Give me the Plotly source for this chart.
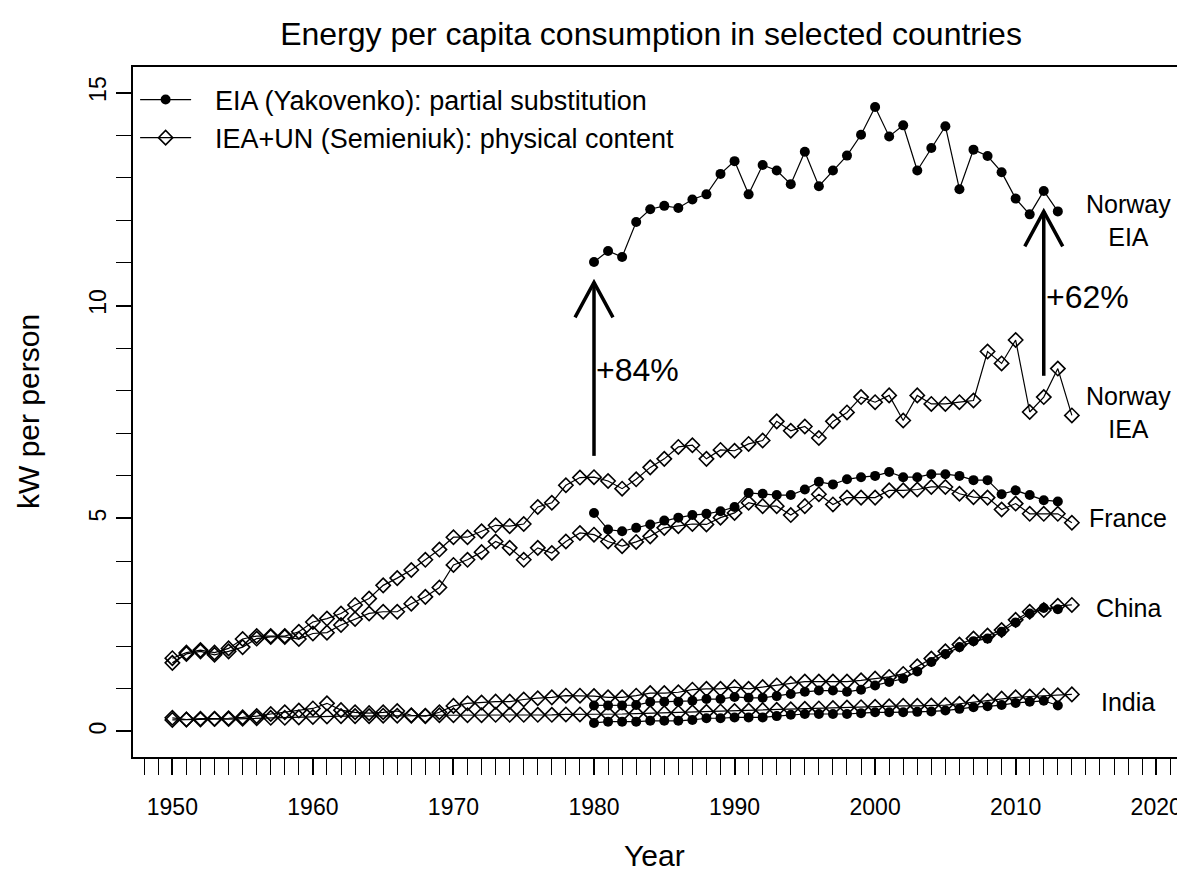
import plotly.graph_objects as go

# ---------------- data ----------------
years_iea = list(range(1950, 2015))
years_eia = list(range(1980, 2014))

norway_iea = [1.72, 1.85, 1.91, 1.85, 1.95, 2.17, 2.24, 2.24, 2.24, 2.34,
              2.57, 2.65, 2.77, 2.97, 3.12, 3.43, 3.60, 3.79, 4.03, 4.27,
              4.56, 4.56, 4.70, 4.84, 4.82, 4.87, 5.27, 5.37, 5.78, 5.96,
              5.97, 5.88, 5.70, 5.92, 6.20, 6.40, 6.68, 6.72, 6.40, 6.61,
              6.59, 6.75, 6.83, 7.28, 7.06, 7.16, 6.89, 7.28, 7.49, 7.85,
              7.73, 7.89, 7.30, 7.89, 7.69, 7.69, 7.73, 7.77, 8.92, 8.64,
              9.19, 7.50, 7.85, 8.52, 7.42]
france_iea = [1.61, 1.82, 1.88, 1.80, 1.88, 1.98, 2.18, 2.22, 2.22, 2.17,
              2.30, 2.32, 2.50, 2.64, 2.77, 2.81, 2.81, 3.00, 3.16, 3.38,
              3.91, 4.03, 4.21, 4.46, 4.31, 4.03, 4.31, 4.19, 4.46, 4.66,
              4.62, 4.46, 4.35, 4.45, 4.58, 4.78, 4.82, 4.87, 4.86, 5.02,
              5.13, 5.37, 5.29, 5.29, 5.08, 5.29, 5.57, 5.33, 5.49, 5.49,
              5.49, 5.66, 5.66, 5.68, 5.74, 5.74, 5.58, 5.50, 5.49, 5.21,
              5.35, 5.11, 5.11, 5.11, 4.90]
china_iea = [0.32, 0.28, 0.30, 0.30, 0.31, 0.33, 0.36, 0.41, 0.45, 0.49,
             0.54, 0.66, 0.50, 0.45, 0.43, 0.45, 0.48, 0.38, 0.36, 0.45,
             0.60, 0.66, 0.68, 0.70, 0.70, 0.75, 0.78, 0.80, 0.84, 0.84,
             0.83, 0.80, 0.80, 0.84, 0.90, 0.90, 0.92, 0.98, 1.00, 1.00,
             1.04, 1.00, 1.04, 1.08, 1.12, 1.17, 1.17, 1.17, 1.17, 1.20,
             1.24, 1.28, 1.35, 1.53, 1.71, 1.88, 2.04, 2.18, 2.25, 2.38,
             2.62, 2.81, 2.85, 2.95, 2.97]
india_iea = [0.27, 0.28, 0.28, 0.29, 0.29, 0.30, 0.31, 0.32, 0.32, 0.33,
             0.34, 0.35, 0.36, 0.36, 0.36, 0.37, 0.37, 0.37, 0.37, 0.38,
             0.38, 0.38, 0.38, 0.39, 0.39, 0.39, 0.39, 0.39, 0.40, 0.40,
             0.40, 0.41, 0.41, 0.42, 0.43, 0.43, 0.44, 0.45, 0.46, 0.47,
             0.48, 0.49, 0.50, 0.51, 0.52, 0.53, 0.54, 0.55, 0.56, 0.57,
             0.58, 0.59, 0.60, 0.60, 0.61, 0.62, 0.65, 0.69, 0.72, 0.77,
             0.80, 0.82, 0.84, 0.85, 0.87]

norway_eia = [11.02, 11.28, 11.14, 11.96, 12.26, 12.34, 12.29, 12.49, 12.61, 13.09,
              13.39, 12.61, 13.30, 13.17, 12.85, 13.61, 12.80, 13.17, 13.52, 14.01,
              14.66, 13.97, 14.23, 13.17, 13.70, 14.21, 12.73, 13.66, 13.51, 13.13,
              12.51, 12.14, 12.69, 12.21]
france_eia = [5.13, 4.74, 4.70, 4.78, 4.86, 4.95, 5.02, 5.08, 5.11, 5.17,
              5.27, 5.60, 5.58, 5.55, 5.55, 5.68, 5.86, 5.80, 5.92, 5.97,
              6.00, 6.09, 5.97, 5.97, 6.04, 6.04, 6.00, 5.90, 5.90, 5.57,
              5.66, 5.55, 5.43, 5.40]
china_eia = [0.61, 0.61, 0.61, 0.62, 0.69, 0.70, 0.70, 0.72, 0.76, 0.76,
             0.81, 0.79, 0.79, 0.83, 0.88, 0.93, 0.96, 0.96, 0.93, 0.98,
             1.08, 1.16, 1.24, 1.41, 1.63, 1.82, 1.98, 2.12, 2.18, 2.34,
             2.56, 2.77, 2.90, 2.87]
india_eia = [0.20, 0.23, 0.23, 0.23, 0.25, 0.25, 0.25, 0.27, 0.31, 0.31,
             0.33, 0.33, 0.33, 0.36, 0.39, 0.41, 0.41, 0.41, 0.41, 0.43,
             0.45, 0.45, 0.45, 0.46, 0.47, 0.49, 0.53, 0.57, 0.59, 0.62,
             0.67, 0.70, 0.72, 0.61]

legend_names = ["EIA (Yakovenko): partial substitution",
                "IEA+UN (Semieniuk): physical content"]

label_texts = ["Norway<br>EIA", "Norway<br>IEA", "France", "China", "India"]
label_x = [2018, 2018, 2018, 2018, 2018]
label_y = [12.0, 7.5, 5.0, 2.9, 0.7]

arrow_x = [1980, 2012]
arrow_from = [6.47, 8.35]
arrow_to = [10.54, 12.21]
arrow_text = ["+84%", "+62%"]
arrow_text_y = [8.48, 10.2]

x_major = list(range(1950, 2021, 10))
x_mid = list(range(1950, 2021, 5))
y_major = [0, 5, 10, 15]

FONT = "Liberation Sans, Arial, Helvetica, sans-serif"
LEG_PAD = "\u2002\u2009"  # gap between legend symbol and text

fig = go.Figure()

iea_series = [norway_iea, france_iea, china_iea, india_iea]
eia_series = [norway_eia, france_eia, china_eia, india_eia]

for i, s in enumerate(iea_series):
    fig.add_trace(go.Scatter(
        x=years_iea, y=s, mode="lines+markers",
        line=dict(color="black", width=1.2),
        marker=dict(symbol="diamond-open", size=11, color="black",
                    line=dict(width=1.6, color="black")),
        name=LEG_PAD + legend_names[1], showlegend=(i == 0), legendrank=2,
        hoverinfo="x+y"))

for i, s in enumerate(eia_series):
    fig.add_trace(go.Scatter(
        x=years_eia, y=s, mode="lines+markers",
        line=dict(color="black", width=1.2),
        marker=dict(symbol="circle", size=10, color="black"),
        name=LEG_PAD + legend_names[0], showlegend=(i == 0), legendrank=1,
        hoverinfo="x+y"))

# arrows
shapes = []
dx, dy = 1.35, 0.82
for x, y0, y1 in zip(arrow_x, arrow_from, arrow_to):
    shapes.append(dict(type="line", xref="x", yref="y", x0=x, x1=x, y0=y0, y1=y1,
                       line=dict(color="black", width=3.5)))
    shapes.append(dict(type="path", xref="x", yref="y",
                       path=f"M {x-dx},{y1-dy} L {x},{y1} L {x+dx},{y1-dy}",
                       line=dict(color="black", width=3.5)))

annotations = []
for t, x, y in zip(label_texts, label_x, label_y):
    annotations.append(dict(x=x, y=y, xref="x", yref="y", text=t, showarrow=False,
                            xanchor="center", yanchor="middle", align="center",
                            font=dict(size=25, color="black", family=FONT)))
for t, x, y in zip(arrow_text, arrow_x, arrow_text_y):
    annotations.append(dict(x=x, y=y, xref="x", yref="y", text=t, showarrow=False,
                            xanchor="left", yanchor="middle", xshift=0,
                            font=dict(size=32, color="black", family=FONT)))
# axis titles
annotations.append(dict(x=0.4924, y=0, xref="paper", yref="paper", text="Year",
                        showarrow=False, xanchor="center", yanchor="middle", yshift=-98,
                        font=dict(size=30, color="black", family=FONT)))
annotations.append(dict(x=0, y=0.5, xref="paper", yref="paper", text="kW per person",
                        showarrow=False, xanchor="center", yanchor="middle", xshift=-105,
                        textangle=-90, font=dict(size=30, color="black", family=FONT)))

# The page places the figure 8px from the top-left corner; margins compensate.
L, T, B = 125, 59, 121
xr = [1947.2, 1947.2 + (1185 - L) / 14.055]
yr = [-0.6, 15.6]

fig.update_layout(
    width=1185, height=870,
    margin=dict(l=L, r=0, t=T, b=B, autoexpand=False),
    paper_bgcolor="white", plot_bgcolor="white",
    font=dict(family=FONT, color="black"),
    title=dict(text="Energy per capita consumption in selected countries",
               x=643 / 1185, xanchor="center", y=1 - 26 / 870, yanchor="middle",
               font=dict(size=32, color="black", family=FONT)),
    showlegend=True,
    legend=dict(x=0.002, y=0.9877, xanchor="left", yanchor="top",
                bgcolor="rgba(0,0,0,0)", font=dict(size=27, family=FONT, color="black"),
                itemwidth=51, tracegroupgap=0),
    xaxis=dict(range=xr, showgrid=False, zeroline=False, automargin=False,
               showline=True, linecolor="black", linewidth=1.5, mirror=True,
               tickvals=x_major, ticks="outside", ticklen=16, tickwidth=1.5,
               tickcolor="black", tickfont=dict(size=23, family=FONT, color="black"),
               minor=dict(dtick=1, tick0=1950, ticks="outside", ticklen=16,
                          tickwidth=1.2, tickcolor="black", showgrid=False),
               ticklabelstandoff=13),
    yaxis=dict(range=yr, showgrid=False, zeroline=False, automargin=False,
               showline=True, linecolor="black", linewidth=1.5, mirror=False,
               tickvals=y_major, ticks="outside", ticklen=15, tickwidth=1.5,
               tickcolor="black", tickangle=-90,
               tickfont=dict(size=23, family=FONT, color="black"),
               minor=dict(dtick=1, tick0=0, ticks="outside", ticklen=15,
                          tickwidth=1.2, tickcolor="black", showgrid=False),
               ticklabelstandoff=1),
    xaxis2=dict(range=xr, overlaying="x", anchor="y", side="bottom", automargin=False,
                showgrid=False, zeroline=False, showline=False,
                tickvals=x_mid, ticks="inside", ticklen=7, tickwidth=1.5,
                tickcolor="black", showticklabels=False),
    yaxis2=dict(range=yr, overlaying="y", anchor="x", side="left", automargin=False,
                showgrid=False, zeroline=False, showline=False,
                tickvals=y_major, ticks="inside", ticklen=7, tickwidth=1.5,
                tickcolor="black", showticklabels=False),
    shapes=shapes,
    annotations=annotations,
)

fig.write_html("out.html")
